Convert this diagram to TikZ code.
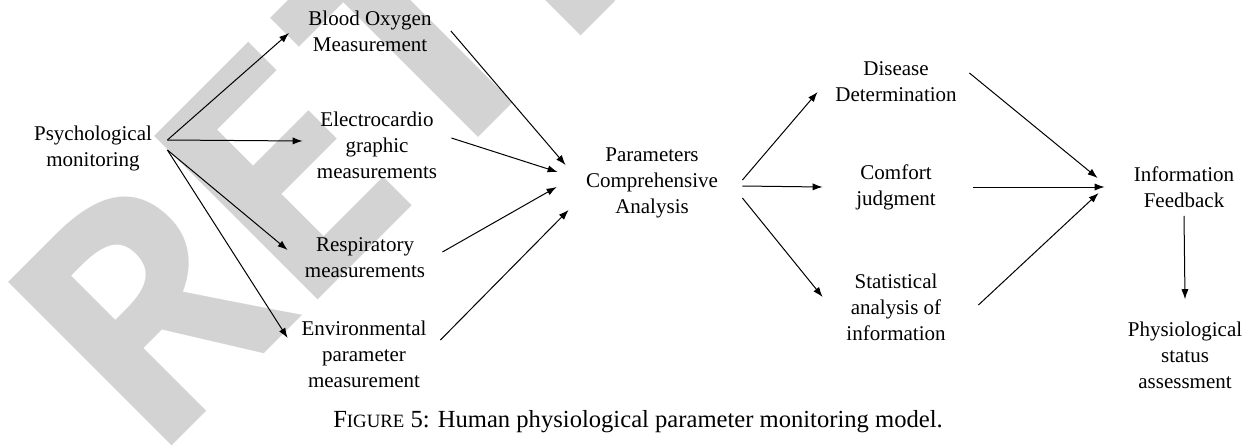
\documentclass[tikz,border=0pt]{standalone}
\usepackage{fontspec}
\setmainfont{Liberation Serif}
\newfontfamily\stampfont{Open Sans}
\usepackage{xcolor}
\usetikzlibrary{arrows.meta}

\definecolor{stampgray}{RGB}{211,211,211}

\begin{document}
\begin{tikzpicture}[
  x=0.5pt, y=0.5pt,
  font=\fontsize{10.5}{13}\selectfont,
  txt/.style={align=center, inner sep=0pt},
  arrow/.style={->,>={Latex[length=5pt,width=3.6pt]}, line width=0.5pt},
  stamp/.style={rotate=45, inner sep=0pt, text=stampgray, font=\stampfont\bfseries\fontsize{162}{162}\selectfont},
]
\useasboundingbox (0,0) rectangle (1257,447);

% retraction stamp behind the diagram
\begin{scope}
  \clip (0,0) rectangle (1257,447);
  \node[stamp, anchor=base west] (sR) at (151,-20) {R};
  \node[stamp, anchor=base west] (sE) at (297.5,126.5) {E};
  \node[stamp, anchor=base] (sT) at (495.5,326.5) {T};
  \node[stamp, anchor=base west] (sRR) at (560,390) {R};
\end{scope}

\node[txt, minimum width=74pt] (psy) at (93,299) {Psychological\\monitoring};

\node[txt, minimum width=80.5pt] (oxy) at (370,416) {Blood Oxygen\\Measurement};
\node[txt, minimum width=74pt] (ecg) at (377,302) {Electrocardio\\graphic\\measurements};
\node[txt, minimum width=77pt] (resp) at (365,189) {Respiratory\\measurements};
\node[txt, minimum width=76pt] (env) at (364,93) {Environmental\\parameter\\measurement};

\node[txt, minimum width=90pt] (par) at (652,264) {Parameters\\Comprehensive\\Analysis};

\node[txt, minimum width=76pt] (dis) at (896,365) {Disease\\Determination};
\node[txt, minimum width=76pt] (com) at (896,260) {Comfort\\judgment};
\node[txt, minimum width=76pt] (sta) at (896,140) {Statistical\\analysis of\\information};

\node[txt, minimum width=84pt] (info) at (1184,260) {Information\\Feedback};
\node[txt] (phys) at (1185,92) {Physiological\\status\\assessment};

\node[txt, font=\fontsize{12.3}{14}\selectfont] (cap) at (638,25)
  {F{\fontsize{9.4}{10}\selectfont IGURE} 5: Human physiological parameter monitoring model.};

% monitoring branches
\draw[arrow] ([yshift=4pt]psy.east) -- ([yshift=-1pt]oxy.west);
\draw[arrow] ([yshift=4pt]psy.east) -- ([yshift=2pt]ecg.west);
\draw[arrow] ([yshift=-1pt]psy.east) -- ([yshift=4pt]resp.west);
\draw[arrow] ([yshift=-1pt]psy.east) -- ([yshift=8pt]env.west);

% measurements into the analysis
\draw[arrow] (oxy.east) -- ([xshift=2pt,yshift=9pt]par.west);
\draw[arrow] ([yshift=3.5pt]ecg.east) -- ([xshift=-2pt,yshift=5.5pt]par.west);
\draw[arrow] ([yshift=3pt]resp.east) -- ([xshift=-2.5pt,yshift=-2pt]par.west);
\draw[arrow] ([yshift=7pt]env.east) -- ([xshift=3.5pt,yshift=-13.5pt]par.west);

% analysis results
\draw[arrow] ([yshift=1.5pt]par.east) -- ([xshift=-1pt,yshift=-5pt]dis.west);
\draw[arrow] ([yshift=-1.5pt]par.east) -- ([xshift=1.5pt]com.west);
\draw[arrow] ([yshift=-7.5pt]par.east) -- ([xshift=1.5pt,yshift=5pt]sta.west);

\draw[arrow] ([xshift=-1.5pt,yshift=4.5pt]dis.east) -- ([xshift=-1pt,yshift=4.5pt]info.west);
\draw[arrow] ([xshift=0.5pt]com.east) -- ([xshift=2.5pt]info.west);
\draw[arrow] ([xshift=3pt,yshift=1pt]sta.east) -- ([xshift=-0.5pt,yshift=-3pt]info.west);

\draw[arrow] ([yshift=-4pt]info.south) -- ([yshift=11pt]phys.north);

\end{tikzpicture}
\end{document}
